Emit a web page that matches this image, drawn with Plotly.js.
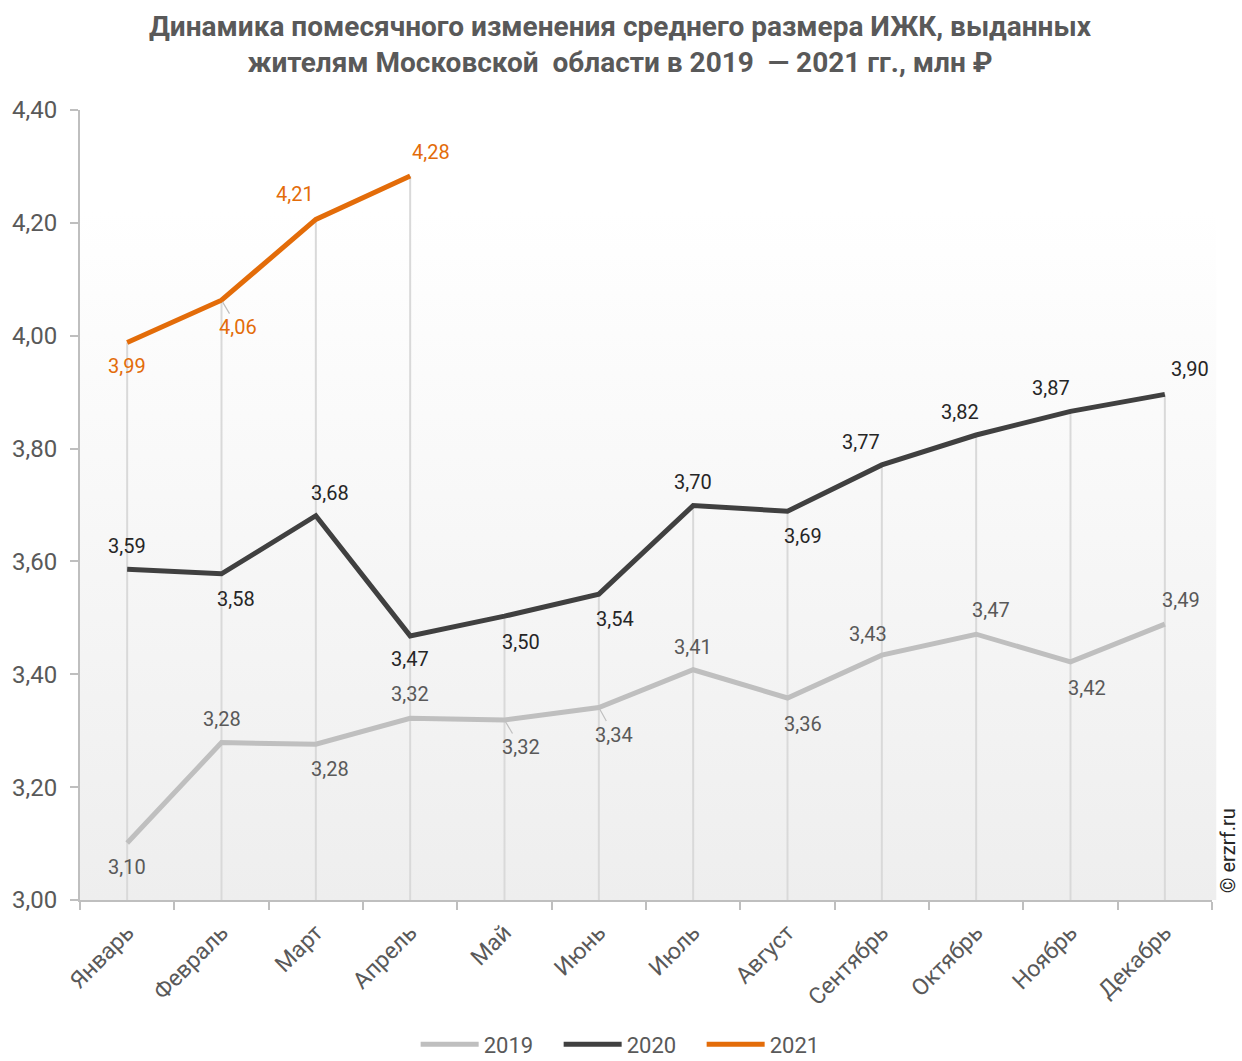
<!DOCTYPE html>
<html>
<head>
<meta charset="utf-8">
<script src="https://cdn.plot.ly/plotly-3.0.1.min.js"></script>
<style>html,body{margin:0;padding:0;background:#fff;}#chart{width:1242px;height:1061px;}</style>
</head>
<body>
<div id="chart"></div>
<script>
// ---- data ----
const months = ["Январь","Февраль","Март","Апрель","Май","Июнь","Июль","Август","Сентябрь","Октябрь","Ноябрь","Декабрь"];
const v2019 = [3.101, 3.279, 3.276, 3.322, 3.319, 3.341, 3.408, 3.358, 3.434, 3.471, 3.422, 3.489];
const v2020 = [3.586, 3.578, 3.681, 3.468, 3.503, 3.542, 3.699, 3.689, 3.771, 3.824, 3.866, 3.896];
const v2021 = [3.988, 4.063, 4.206, 4.283];
const yTicks = [3.0, 3.2, 3.4, 3.6, 3.8, 4.0, 4.2, 4.4];

// ---- label placement (style: pixel offsets, leader flags) ----
const off2019 = [[0,24],[0,-24],[14,25],[0,-24],[16,27],[15,27],[0,-23],[15,26],[-14,-21],[15,-24],[16,26],[16,-24]];
const lead2019 = [0,0,0,0,1,1,0,0,0,0,0,0];
const off2020 = [[0,-23],[14,25],[14,-23],[0,23],[16,26],[16,25],[0,-24],[15,25],[-21,-23],[-16,-23],[-20,-23],[25,-25]];
const lead2020 = [0,0,0,0,0,0,0,0,0,0,0,0];
const off2021 = [[0,24],[16,27],[-21,-25],[21,-24]];
const lead2021 = [0,1,0,0];

const C19 = "#bfbfbf", C20 = "#404040", C21 = "#e36c09";
const fmt = v => v.toFixed(2).replace(".", ",");

const traces = [
  {name:"2019", x:months.slice(0,v2019.length), y:v2019, type:"scatter", mode:"lines", line:{color:C19,width:5}, hoverinfo:"skip"},
  {name:"2020", x:months.slice(0,v2020.length), y:v2020, type:"scatter", mode:"lines", line:{color:C20,width:5}, hoverinfo:"skip"},
  {name:"2021", x:months.slice(0,v2021.length), y:v2021, type:"scatter", mode:"lines", line:{color:C21,width:5}, hoverinfo:"skip"}
];

// drop lines from the highest value of each month down to the axis
const shapes = months.map((m,i) => {
  const vals = [v2019[i], v2020[i], v2021[i]].filter(v => v !== undefined);
  return {type:"line", xref:"x", yref:"y", x0:m, x1:m, y0:yTicks[0], y1:Math.max(...vals),
          line:{color:"#d9d9d9", width:2}, layer:"below"};
});

const annotations = [];
function addLabels(vals, offs, leads, color){
  vals.forEach((v,i) => {
    annotations.push({x:months[i], y:v, xref:"x", yref:"y", text:fmt(v),
      showarrow:true, arrowhead:0, arrowwidth:1.2, standoff:2,
      arrowcolor: leads[i] ? "#bfbfbf" : "rgba(0,0,0,0)",
      ax:offs[i][0], ay:offs[i][1],
      font:{family:"Roboto", size:20, color:color}});
  });
}
addLabels(v2019, off2019, lead2019, "#595959");
addLabels(v2020, off2020, lead2020, "#262626");
addLabels(v2021, off2021, lead2021, C21);

// title
annotations.push({text:"<b>Динамика помесячного изменения среднего размера ИЖК, выданных<br>жителям Московской  области в 2019  — 2021 гг., млн ₽</b>",
  xref:"paper", yref:"paper", x:0.4779, y:1.083, xanchor:"center", yanchor:"middle", showarrow:false,
  font:{family:"Roboto", size:28, color:"#595959"}});

// watermark
annotations.push({text:"© erzrf.ru", xref:"paper", yref:"paper", x:1.0141, y:0.063, showarrow:false,
  textangle:-90, font:{family:"Roboto", size:20, color:"#262626"}, xanchor:"center", yanchor:"middle"});

const grad = 'data:image/svg+xml;utf8,' + encodeURIComponent(
  '<svg xmlns="http://www.w3.org/2000/svg" width="100" height="100" preserveAspectRatio="none">' +
  '<defs><linearGradient id="g" x1="0" y1="0" x2="0" y2="1"><stop offset="0" stop-color="#ffffff"/><stop offset="1" stop-color="#eeeeee"/></linearGradient></defs>' +
  '<rect width="100" height="100" fill="url(#g)"/></svg>');

const layout = {
  width:1242, height:1061,
  margin:{l:80, r:30, t:110, b:161, autoexpand:false},
  paper_bgcolor:"#ffffff", plot_bgcolor:"rgba(0,0,0,0)",
  font:{family:"Roboto", color:"#595959"},
  xaxis:{type:"category", categoryarray:months, range:[-0.5, 11.5], showgrid:false, zeroline:false, automargin:false,
    showline:true, linecolor:"#bfbfbf", linewidth:2, ticks:"outside", tickson:"boundaries",
    ticklen:8, tickwidth:2, tickcolor:"#bfbfbf", tickangle:-45, ticklabelstandoff:8,
    tickfont:{family:"Roboto", size:23, color:"#595959"}, fixedrange:true},
  yaxis:{range:[3.0, 4.4], tickvals:yTicks, ticktext:yTicks.map(fmt), showgrid:false, zeroline:false, automargin:false,
    showline:true, linecolor:"#bfbfbf", linewidth:2, ticks:"outside", ticklen:8, tickwidth:2, tickcolor:"#bfbfbf",
    ticklabelstandoff:8, tickfont:{family:"Roboto", size:24, color:"#595959"}, fixedrange:true},
  showlegend:true,
  legend:{orientation:"h", x:0.486, xanchor:"center", y:-0.183, yanchor:"middle",
    font:{family:"Roboto", size:22, color:"#595959"}, itemwidth:58, entrywidth:70, traceorder:"normal",
    tracegroupgap:0},
  shapes:shapes,
  annotations:annotations,
  images:[{source:grad, xref:"paper", yref:"paper", x:0, y:0.872, sizex:1.004, sizey:0.872,
    xanchor:"left", yanchor:"top", sizing:"stretch", layer:"below"}]
};

Plotly.newPlot("chart", traces, layout, {displayModeBar:false, staticPlot:true});
</script>
</body>
</html>
